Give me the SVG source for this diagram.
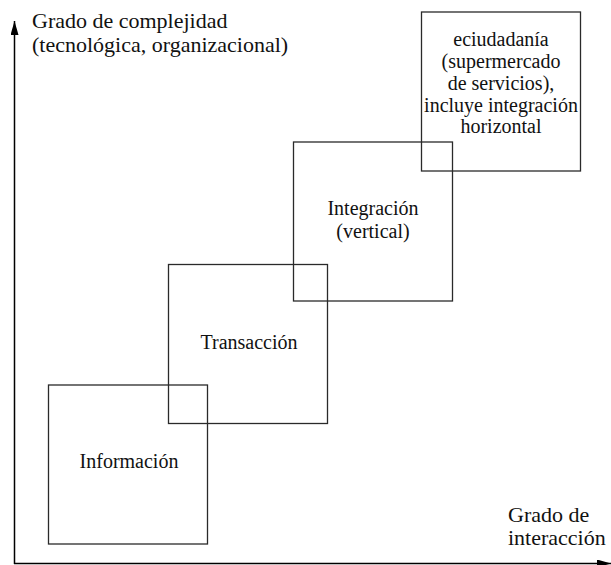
<svg xmlns="http://www.w3.org/2000/svg" width="611" height="565" viewBox="0 0 611 565">
<style>
.box{fill:none;stroke:#2a2a2a;stroke-width:1.3}
.t{font-family:"Liberation Serif","Times New Roman",serif;fill:#111}
.bl{font-size:20px;text-anchor:middle}
.ax{font-size:22px}
.axis{stroke:#000;stroke-width:1.5;fill:none}
</style>
<defs>
<marker id="ah" viewBox="0 0 10 10" refX="10" refY="5" markerWidth="10" markerHeight="10" markerUnits="userSpaceOnUse" orient="auto">
<path d="M0,0 L10,5 L0,10 z" fill="#000"/>
</marker>
<marker id="ah2" viewBox="0 0 14 8" refX="14" refY="4" markerWidth="14" markerHeight="8" markerUnits="userSpaceOnUse" orient="auto">
<path d="M0,0 L14,4 L0,8 z" fill="#000"/>
</marker>
</defs>
<g id="connectors">
<path class="axis" d="M14.5,564 L14.5,21" marker-end="url(#ah2)"/>
<path class="axis" d="M14,563.5 L611,563.5" marker-end="url(#ah2)"/>
</g>
<g id="label-y">
<text class="t ax" x="32" y="28">Grado de complejidad</text>
<text class="t ax" x="32" y="52">(tecnológica, organizacional)</text>
</g>
<g id="label-x">
<text class="t ax" x="508" y="522">Grado de</text>
<text class="t ax" x="508" y="545">interacción</text>
</g>
<g id="informacion">
<rect class="box" x="48.5" y="385" width="159" height="159"/>
<text class="t bl" x="129" y="468">Información</text>
</g>
<g id="transaccion">
<rect class="box" x="168.5" y="264.5" width="159" height="159"/>
<text class="t bl" x="249" y="349">Transacción</text>
</g>
<g id="integracion">
<rect class="box" x="293.5" y="142" width="159" height="159"/>
<text class="t bl" x="373" y="215">Integración</text>
<text class="t bl" x="373" y="238">(vertical)</text>
</g>
<g id="eciudadania">
<rect class="box" x="421.5" y="12" width="159" height="159"/>
<text class="t bl" x="501" y="46">eciudadanía</text>
<text class="t bl" x="501" y="68">(supermercado</text>
<text class="t bl" x="501" y="90">de servicios),</text>
<text class="t bl" x="501" y="112">incluye integración</text>
<text class="t bl" x="501" y="133">horizontal</text>
</g>
</svg>
